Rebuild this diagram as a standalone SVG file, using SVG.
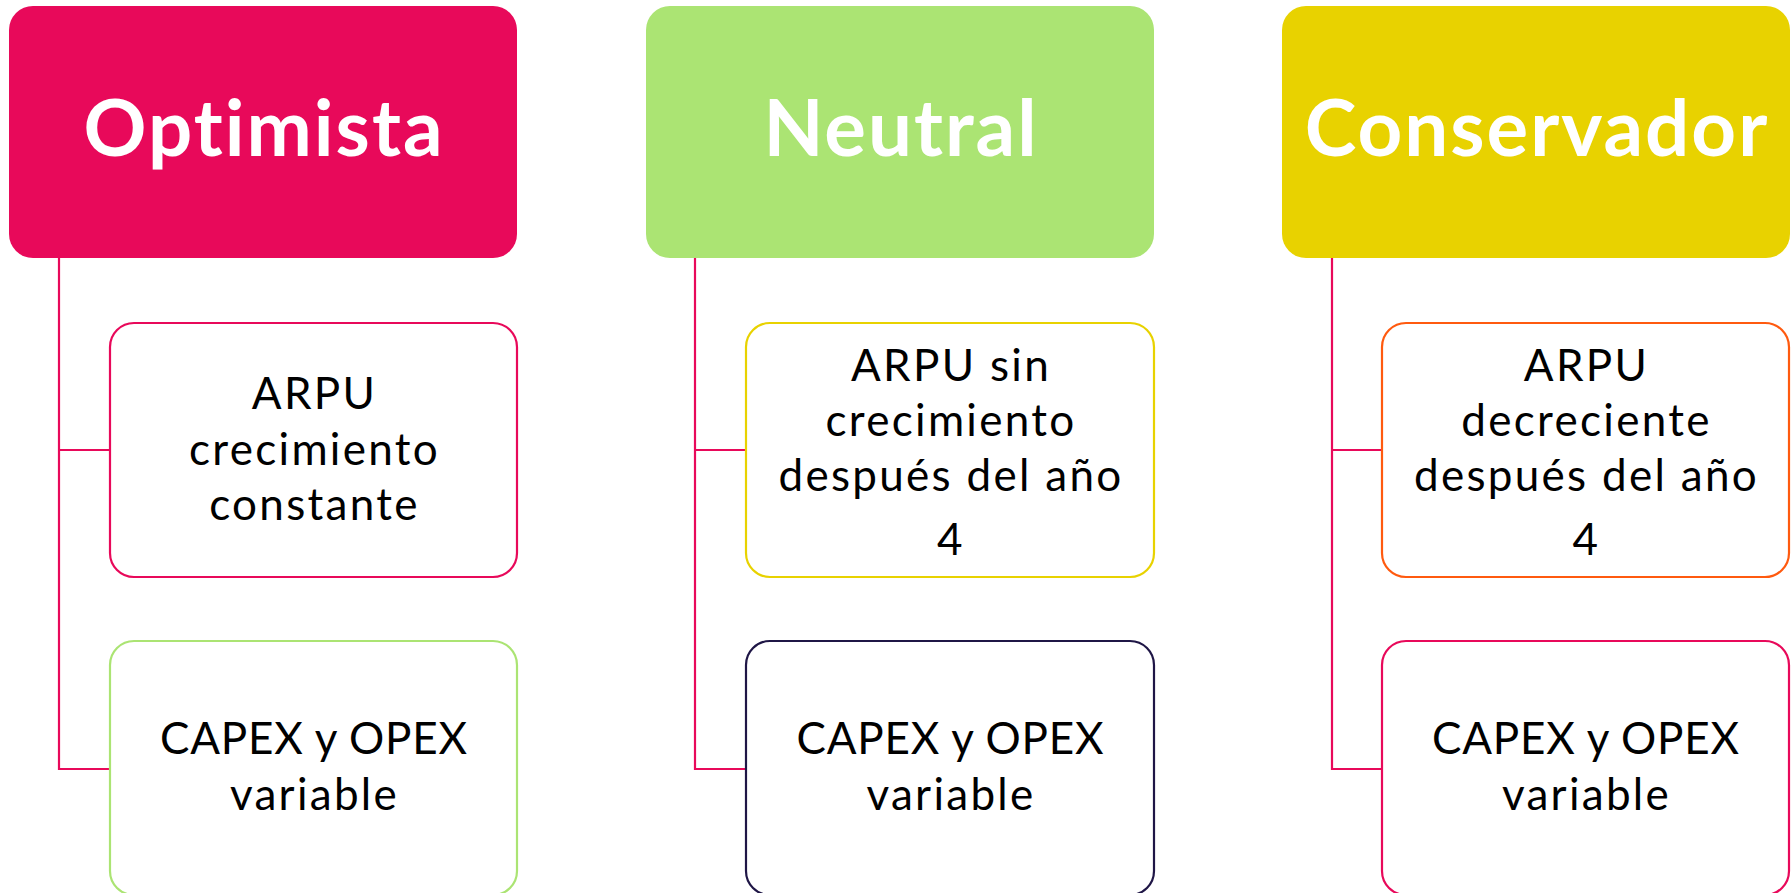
<svg xmlns="http://www.w3.org/2000/svg" width="1791" height="893" viewBox="0 0 1791 893">
  <style>
    .hdr { font-family: Lato, "Open Sans", sans-serif; font-weight: bold; font-size: 78px; letter-spacing: 2px; fill: #FFFFFF; text-anchor: middle; }
    .txt { font-family: Lato, "Open Sans", sans-serif; font-size: 44px; letter-spacing: 2.3px; fill: #000000; text-anchor: middle; }
    .cap { letter-spacing: 0.8px; }
    .box { fill: #FFFFFF; stroke-width: 2.2; }
    .conn { fill: none; stroke: #E8095A; stroke-width: 2.2; }
  </style>
  <rect width="1791" height="893" fill="#FFFFFF"/>
  <g id="connectors">
    <path class="conn" d="M59 258 V769 H110 M59 450 H110"/>
    <path class="conn" d="M695 258 V769 H746 M695 450 H746"/>
    <path class="conn" d="M1332 258 V769 H1382 M1332 450 H1382"/>
  </g>
  <g id="optimista">
    <rect x="9" y="6" width="508" height="252" rx="24" fill="#E8095A"/>
    <text class="hdr" x="264" y="156">Optimista</text>
  </g>
  <g id="neutral">
    <rect x="646" y="6" width="508" height="252" rx="24" fill="#ABE473"/>
    <text class="hdr" x="901" y="156">Neutral</text>
  </g>
  <g id="conservador">
    <rect x="1282" y="6" width="508" height="252" rx="24" fill="#E8D200"/>
    <text class="hdr" x="1537" y="156">Conservador</text>
  </g>
  <g id="opt-arpu">
    <rect class="box" x="110" y="323" width="407" height="254" rx="24" stroke="#E8095A"/>
    <text class="txt" x="314.5" y="409">ARPU</text>
    <text class="txt" x="314.5" y="465">crecimiento</text>
    <text class="txt" x="314.5" y="520">constante</text>
  </g>
  <g id="opt-capex">
    <rect class="box" x="110" y="641" width="407" height="254" rx="24" stroke="#ABE473"/>
    <text class="txt cap" x="314" y="754">CAPEX y OPEX</text>
    <text class="txt" x="314.5" y="810">variable</text>
  </g>
  <g id="neu-arpu">
    <rect class="box" x="746" y="323" width="408" height="254" rx="24" stroke="#E8D200"/>
    <text class="txt" x="951" y="381">ARPU sin</text>
    <text class="txt" x="951" y="436">crecimiento</text>
    <text class="txt" x="951" y="491">después del año</text>
    <text class="txt" x="951" y="555">4</text>
  </g>
  <g id="neu-capex">
    <rect class="box" x="746" y="641" width="408" height="254" rx="24" stroke="#1F1646"/>
    <text class="txt cap" x="950.5" y="754">CAPEX y OPEX</text>
    <text class="txt" x="951" y="810">variable</text>
  </g>
  <g id="con-arpu">
    <rect class="box" x="1382" y="323" width="407" height="254" rx="24" stroke="#FF5A0F"/>
    <text class="txt" x="1586.5" y="381">ARPU</text>
    <text class="txt" x="1586.5" y="436">decreciente</text>
    <text class="txt" x="1586.5" y="491">después del año</text>
    <text class="txt" x="1586.5" y="555">4</text>
  </g>
  <g id="con-capex">
    <rect class="box" x="1382" y="641" width="407" height="254" rx="24" stroke="#E8095A"/>
    <text class="txt cap" x="1586" y="754">CAPEX y OPEX</text>
    <text class="txt" x="1586.5" y="810">variable</text>
  </g>
</svg>
